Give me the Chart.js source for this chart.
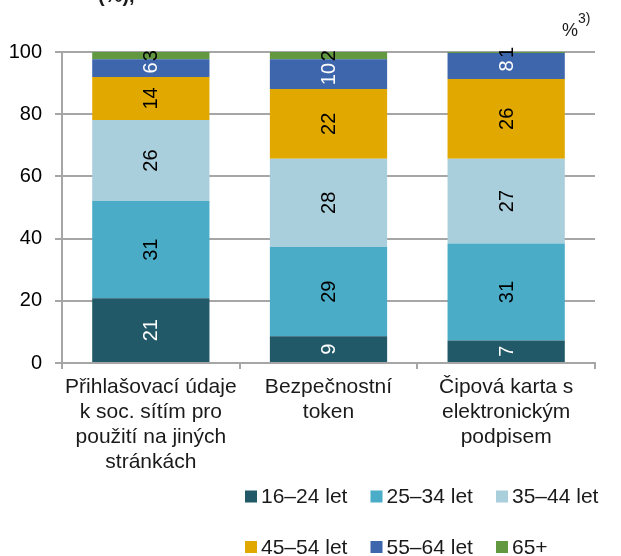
<!DOCTYPE html>
<html>
<head>
<meta charset="utf-8">
<script src="https://cdn.jsdelivr.net/npm/chart.js@4"></script>
<style>
  body { margin: 0; background: #fff; }
  #chartDiv { width: 621px; height: 556px; }
</style>
</head>
<body>
<div id="chartDiv"><canvas id="ageChart" width="621" height="556"></canvas></div>
<script>
// DATA
var x_axis_labels = [
    ['Přihlašovací údaje', 'k soc. sítím pro', 'použití na jiných', 'stránkách'],
    ['Bezpečnostní', 'token'],
    ['Čipová karta s', 'elektronickým', 'podpisem']
];
var series_labels   = ['16–24 let', '25–34 let', '35–44 let', '45–54 let', '55–64 let', '65+'];
var data_16_24 = [20.8, 8.6, 7.2];
var data_25_34 = [31.3, 28.7, 31.2];
var data_35_44 = [26.0, 28.4, 27.3];
var data_45_54 = [13.9, 22.4, 25.6];
var data_55_64 = [5.7, 9.6, 8.4];
var data_65    = [2.6, 2.3, 0.6];
var y_ticks    = [0, 20, 40, 60, 80, 100];

var series_colors = ['#215968', '#4aacc6', '#a9cedc', '#e1a800', '#3d66ad', '#629940'];
var label_colors  = ['#ffffff', '#000000', '#000000', '#000000', '#ffffff', '#000000'];
var FONT = "'Liberation Sans', Arial, sans-serif";
var GRID = '#a6a6a6';

var all_series = [data_16_24, data_25_34, data_35_44, data_45_54, data_55_64, data_65];
var datasets = [];
for (var i = 0; i < all_series.length; i++) {
    datasets.push({
        label: series_labels[i],
        data: all_series[i],
        backgroundColor: series_colors[i],
        borderWidth: 0,
        categoryPercentage: 1.0,
        barPercentage: 0.66
    });
}

// ROTATED VALUE LABELS INSIDE THE SEGMENTS
var valueLabels = {
    id: 'valueLabels',
    afterDatasetsDraw: function (chart) {
        var ctx = chart.ctx;
        var area = chart.chartArea;
        ctx.save();
        ctx.font = '20px ' + FONT;
        ctx.textAlign = 'center';
        ctx.textBaseline = 'middle';
        chart.data.datasets.forEach(function (ds, i) {
            var meta = chart.getDatasetMeta(i);
            meta.data.forEach(function (bar, j) {
                var top = Math.max(bar.y, area.top);
                var yc = (top + bar.base) / 2;
                ctx.save();
                ctx.translate(bar.x, yc);
                ctx.rotate(-Math.PI / 2);
                ctx.fillStyle = label_colors[i];
                ctx.fillText(String(Math.round(ds.data[j])), 0, 1);
                ctx.restore();
            });
        });
        ctx.restore();
    }
};

// LEGEND (3 COLUMNS x 2 ROWS) + EXTRA TEXTS
var extraDraw = {
    id: 'extraDraw',
    afterDraw: function (chart) {
        var ctx = chart.ctx;
        ctx.save();
        var colX = [245, 370.5, 496];
        var rowY = [496.5, 547];
        ctx.font = '21px ' + FONT;
        ctx.textBaseline = 'middle';
        ctx.textAlign = 'left';
        for (var i = 0; i < series_labels.length; i++) {
            var cx = colX[i % 3];
            var cy = rowY[Math.floor(i / 3)];
            ctx.fillStyle = series_colors[i];
            ctx.fillRect(cx, cy - 6, 12, 12);
            ctx.fillStyle = '#1a1a1a';
            ctx.fillText(series_labels[i], cx + 16, cy + 1);
        }
        // unit label
        ctx.font = '18px ' + FONT;
        ctx.textBaseline = 'alphabetic';
        ctx.fillText('%', 562, 36);
        ctx.font = '14px ' + FONT;
        ctx.fillText('3)', 578, 23);
        // cut off title
        ctx.font = 'bold 20px ' + FONT;
        ctx.fillText('(%),', 98, 2);
        ctx.restore();
    }
};

var ctx = document.getElementById('ageChart').getContext('2d');
var myChart = new Chart(ctx, {
    type: 'bar',
    data: {
        labels: x_axis_labels,
        datasets: datasets
    },
    plugins: [valueLabels, extraDraw],
    options: {
        responsive: false,
        animation: false,
        layout: {
            padding: { top: 52, right: 26, left: 0, bottom: 0 }
        },
        plugins: {
            legend: { display: false },
            tooltip: { enabled: false }
        },
        scales: {
            x: {
                stacked: true,
                offset: true,
                afterFit: function (scale) { scale.height = 193; },
                grid: {
                    display: true,
                    drawOnChartArea: false,
                    drawTicks: true,
                    tickLength: 6,
                    offset: true,
                    color: GRID,
                    lineWidth: 2
                },
                border: { display: true, color: GRID, width: 2 },
                ticks: {
                    color: '#1a1a1a',
                    padding: 6,
                    maxRotation: 0,
                    autoSkip: false,
                    font: { family: FONT, size: 21, lineHeight: 1.19 }
                }
            },
            y: {
                stacked: true,
                min: 0,
                max: 100,
                afterFit: function (scale) { scale.width = 62; },
                afterBuildTicks: function (scale) {
                    scale.ticks = y_ticks.map(function (v) { return { value: v }; });
                },
                grid: {
                    color: GRID,
                    lineWidth: 2,
                    tickLength: 7
                },
                border: { display: true, color: GRID, width: 2 },
                ticks: {
                    color: '#000000',
                    padding: 13,
                    font: { family: FONT, size: 20 }
                }
            }
        }
    }
});
</script>
</body>
</html>
